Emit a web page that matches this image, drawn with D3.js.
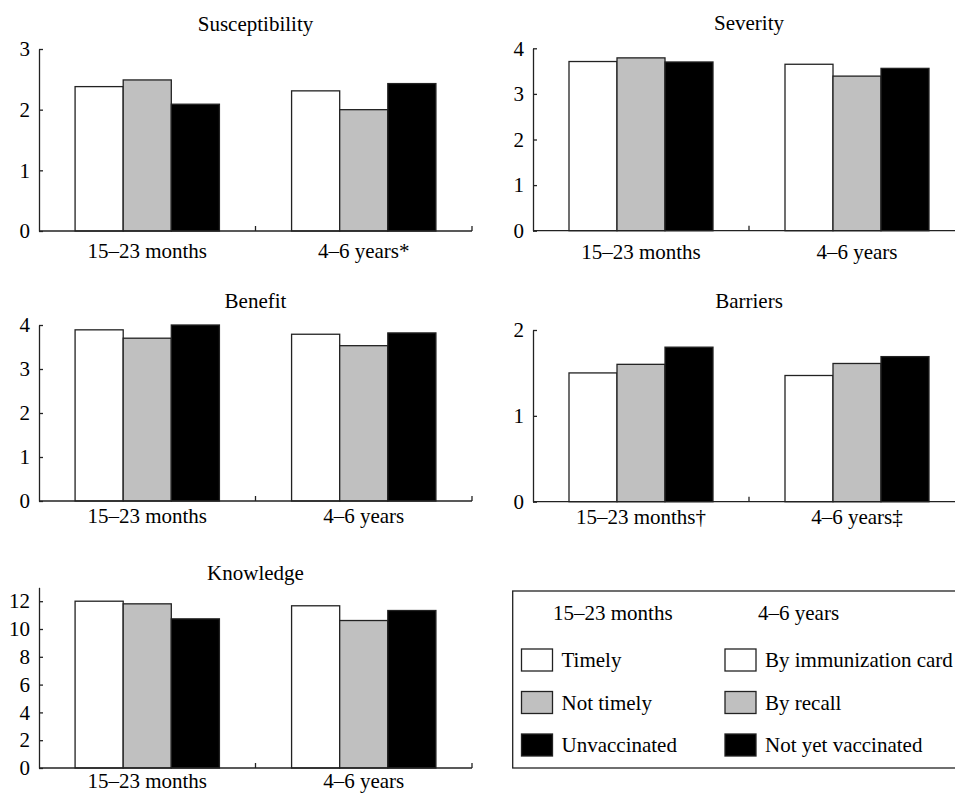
<!DOCTYPE html>
<html>
<head>
<meta charset="utf-8">
<script src="https://cdn.jsdelivr.net/npm/d3@7"></script>
<style>
  body { margin: 0; background: #fff; }
  svg { display: block; }
  text { font-family: "Liberation Serif", "Times New Roman", Times, serif; font-size: 21px; fill: #000; }
  .axis path, .axis line { stroke: #222; stroke-width: 1.3; }
</style>
</head>
<body>
<div id="chart"></div>
<script>
// data
var panelTitles = ["Susceptibility", "Severity", "Benefit", "Barriers", "Knowledge"];
var groupLabels = [
    ["15–23 months", "4–6 years*"],
    ["15–23 months", "4–6 years"],
    ["15–23 months", "4–6 years"],
    ["15–23 months†", "4–6 years‡"],
    ["15–23 months", "4–6 years"]
];
var yMax = [3, 4, 4, 2, 13];
var yTicks = [[0, 1, 2, 3], [0, 1, 2, 3, 4], [0, 1, 2, 3, 4], [0, 1, 2], [0, 2, 4, 6, 8, 10, 12]];

// one row per age group, three bars each (white, grey, black)
var susceptibility = [[2.38, 2.49, 2.09], [2.31, 2.00, 2.43]];
var severity = [[3.71, 3.79, 3.70], [3.65, 3.39, 3.56]];
var benefit = [[3.89, 3.70, 4.00], [3.79, 3.53, 3.82]];
var barriers = [[1.50, 1.60, 1.80], [1.47, 1.61, 1.69]];
var knowledge = [[12.0, 11.81, 10.73], [11.67, 10.61, 11.33]];
var panelValues = [susceptibility, severity, benefit, barriers, knowledge];

var series = ["s0", "s1", "s2"];
var legendHeaders = ["15–23 months", "4–6 years"];
var legendLabels = [
    ["Timely", "Not timely", "Unvaccinated"],
    ["By immunization card", "By recall", "Not yet vaccinated"]
];

// layout (pixels)
var FONT = "'Liberation Serif', 'Times New Roman', Times, serif";
var layout = [
    { left: 39, width: 433, top: 49, bottom: 231, titleY: 30.5, labelPad: 12.5 },
    { left: 533, width: 432, top: 48.3, bottom: 230.7, titleY: 29.5, labelPad: 13 },
    { left: 39, width: 433, top: 325, bottom: 501, titleY: 308, labelPad: 7.5 },
    { left: 533, width: 432, top: 330, bottom: 501.7, titleY: 308, labelPad: 7.5 },
    { left: 39, width: 433, top: 587.3, bottom: 768, titleY: 580, labelPad: 5.5 }
];
var colors = d3.scaleOrdinal().domain(series).range(["#ffffff", "#c0c0c0", "#000000"]);

var svg = d3.select("#chart")
    .append("svg")
    .attr("width", 955)
    .attr("height", 793)
    .attr("font-family", FONT);

panelTitles.forEach(function (title, i) {
    var L = layout[i];
    var labels = groupLabels[i];
    var g = svg.append("g");

    var x0 = d3.scaleBand()
        .domain(labels)
        .range([L.left, L.left + L.width]);
    var x1 = d3.scaleBand()
        .domain(series)
        .range([0, x0.bandwidth()])
        .paddingOuter(0.75);
    var y = d3.scaleLinear()
        .domain([0, yMax[i]])
        .range([L.bottom, L.top]);

    g.append("text")
        .attr("x", x0(labels[1]))
        .attr("y", L.titleY)
        .attr("text-anchor", "middle")
        .text(title);

    // bars
    var groupG = g.selectAll("g.grp")
        .data(panelValues[i])
        .enter()
        .append("g")
        .attr("class", "grp")
        .attr("transform", function (d, k) {
            return "translate(" + x0(labels[k]) + ",0)";
        });

    groupG.selectAll("rect")
        .data(function (d) {
            return d.map(function (v, k) { return { key: series[k], value: v }; });
        })
        .enter()
        .append("rect")
        .attr("x", function (d) { return x1(d.key); })
        .attr("width", x1.bandwidth())
        .attr("y", function (d) { return y(d.value); })
        .attr("height", function (d) { return y(0) - y(d.value); })
        .attr("fill", function (d) { return colors(d.key); })
        .attr("stroke", "#222")
        .attr("stroke-width", 1.3);

    // y axis
    var ya = g.append("g")
        .attr("class", "axis")
        .attr("transform", "translate(" + L.left + ",0)")
        .call(d3.axisLeft(y)
            .tickValues(yTicks[i])
            .tickFormat(d3.format("d"))
            .tickSizeInner(-4)
            .tickSizeOuter(0)
            .tickPadding(9));
    ya.attr("font-family", FONT).attr("font-size", 21);

    // x axis: labels from the band scale, baseline + boundary ticks
    var xa = g.append("g")
        .attr("class", "axis")
        .attr("transform", "translate(0," + L.bottom + ")")
        .call(d3.axisBottom(x0).tickSize(0).tickPadding(L.labelPad));
    xa.attr("font-family", FONT).attr("font-size", 21);
    xa.select(".domain").remove();

    g.append("line")
        .attr("x1", L.left).attr("x2", L.left + L.width)
        .attr("y1", y(0)).attr("y2", y(0))
        .attr("stroke", "#222").attr("stroke-width", 1.3);

    g.selectAll("line.bnd")
        .data([x0(labels[1]), L.left + L.width])
        .enter()
        .append("line")
        .attr("class", "bnd")
        .attr("x1", function (d) { return d; })
        .attr("x2", function (d) { return d; })
        .attr("y1", y(0))
        .attr("y2", y(0) - 5)
        .attr("stroke", "#222").attr("stroke-width", 1.3);
});

// legend box
var lg = svg.append("g");
lg.append("rect")
    .attr("x", 512.7).attr("y", 591)
    .attr("width", 460).attr("height", 177)
    .attr("fill", "none")
    .attr("stroke", "#222").attr("stroke-width", 1.3);

var colX = [521.5, 725];
var headX = [553, 758];
var rowY = d3.scalePoint().domain([0, 1, 2]).range([660, 745]);

legendHeaders.forEach(function (h, c) {
    lg.append("text")
        .attr("x", headX[c]).attr("y", 620)
        .text(h);

    legendLabels[c].forEach(function (lab, r) {
        lg.append("rect")
            .attr("x", colX[c]).attr("y", rowY(r) - 11)
            .attr("width", 31).attr("height", 22)
            .attr("fill", colors(series[r]))
            .attr("stroke", "#222").attr("stroke-width", 1.3);
        lg.append("text")
            .attr("x", colX[c] + 40).attr("y", rowY(r) + 7)
            .text(lab);
    });
});
</script>
</body>
</html>
